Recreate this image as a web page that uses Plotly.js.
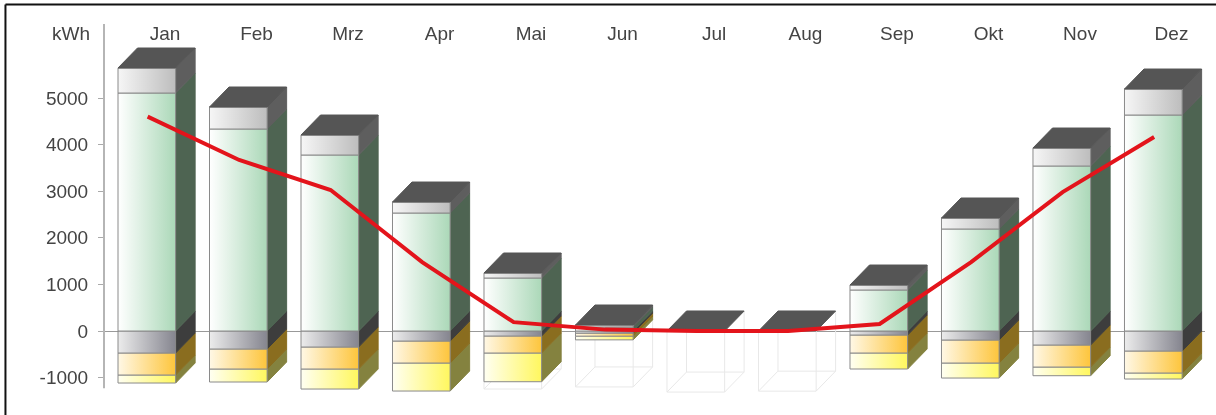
<!DOCTYPE html>
<html>
<head>
<meta charset="utf-8">
<script src="https://cdn.plot.ly/plotly-3.0.1.min.js"></script>
<style>
html,body{margin:0;padding:0;background:#fff;overflow:hidden}
#chart{width:1216px;height:415px;filter:blur(0.5px)}
</style>
</head>
<body>
<div id="chart"></div>
<script>
const months = ["Jan","Feb","Mrz","Apr","Mai","Jun","Jul","Aug","Sep","Okt","Nov","Dez"];
// cumulative levels (kWh)
const stackTop    = [5644,4807,4206,2768,1245,129,0,0,987,2425,3927,5193];
const greenTop    = [5107,4335,3777,2532,1137,85,0,0,880,2189,3541,4635];
const greyBottom  = [-472,-386,-343,-215,-107,-45,0,0,-86,-193,-300,-429];
const orangeBottom= [-944,-815,-815,-687,-472,-110,0,0,-472,-687,-773,-901];
const yellowBottom= [-1116,-1094,-1245,-1288,-1088,-190,0,0,-815,-1009,-959,-1030];
const ghostBottom = [null,null,null,null,-1245,-1200,-1310,-1290,null,null,null,null];
const redLine     = [4600,3670,3026,1480,190,30,0,0,150,1480,2980,4163];
const yTicks      = [-1000,0,1000,2000,3000,4000,5000];

// pseudo-3D geometry, in axis units
const FRONT_LEFT = -0.514, FRONT_W = 0.63, DX = 0.213, DY = 429, LINE_X = -0.19;

const traces = [];
function poly(xs, ys, fill, line, grad){
  const t = {type:"scatter", mode:"lines", x:xs.concat(xs[0]), y:ys.concat(ys[0]),
    fill:"toself", fillcolor:fill, line:{color:line, width:1}, hoverinfo:"skip",
    showlegend:false, cliponaxis:false};
  if(grad){ t.fillgradient = {type:"horizontal", colorscale:[[0,grad[0]],[1,grad[1]]]}; }
  traces.push(t);
}
function wire(xs, ys){
  traces.push({type:"scatter", mode:"lines", x:xs, y:ys, line:{color:"#e8e8e8", width:1},
    hoverinfo:"skip", showlegend:false, cliponaxis:false, connectgaps:false});
}

months.forEach((m,i)=>{
  const l = i + FRONT_LEFT, r = l + FRONT_W;
  if(ghostBottom[i] !== null){
    const b = ghostBottom[i];
    wire([l,l,r,r,l,null,l+DX,l+DX,r+DX,r+DX,l+DX,null,l,l+DX,null,r,r+DX,null,r,r+DX],
         [0,b,b,0,0,null,DY,b+DY,b+DY,DY,DY,null,b,b+DY,null,b,b+DY,null,0,DY]);
  }
  const layers = [
    [yellowBottom[i],orangeBottom[i],"#84823f",["#fffff2","#fff75e"]],
    [orangeBottom[i],greyBottom[i],"#8a6d1f",["#fff8e6","#fdc53c"]],
    [greyBottom[i],0,"#3d3d3d",["#ececec","#85858f"]],
    [0,greenTop[i],"#4e6452",["#ffffff","#abd8b8"]],
    [greenTop[i],stackTop[i],"#5e5e5e",["#f6f6f6","#bdbdbd"]]
  ];
  layers.forEach(([a,b,side,grad])=>{
    if(b-a < 1) return;
    poly([r,r+DX,r+DX,r],[a,a+DY,b+DY,b],side,side);
    poly([l,r,r,l],[a,a,b,b],grad[1],"#8a8a8a",grad);
  });
  const t = stackTop[i];
  poly([l,r,r+DX,l+DX],[t,t,t+DY,t+DY],"#555555","#555555");
});

traces.push({type:"scatter", mode:"lines", name:"Verlauf",
  x:months.map((m,i)=>i+LINE_X), y:redLine,
  line:{color:"#e3141b", width:4, shape:"linear"}, hoverinfo:"skip",
  showlegend:false, cliponaxis:false});

const labelFont = {size:19, color:"#444"};
const layout = {
  width:1216, height:415, paper_bgcolor:"#fff", plot_bgcolor:"#fff",
  margin:{l:104, r:11, t:24, b:22}, showlegend:false,
  font:{family:"Liberation Sans, Arial, sans-serif", size:19, color:"#444"},
  xaxis:{range:[-0.667,11.366], side:"top", tickmode:"array",
    tickvals:months.map((m,i)=>i), ticktext:months, ticks:"",
    ticklabelposition:"inside", showgrid:false, zeroline:false, showline:false,
    tickfont:labelFont},
  yaxis:{range:[-1330,6588], tickmode:"array", tickvals:yTicks,
    ticktext:yTicks.map(String), ticks:"outside", ticklen:5, tickcolor:"#aaa", tickwidth:1,
    ticklabelstandoff:6,
    showgrid:false, zeroline:true, zerolinecolor:"#999", zerolinewidth:1,
    showline:false, tickfont:labelFont},
  annotations:[{xref:"paper", yref:"paper", x:-0.0105, y:0.9756, xanchor:"right", yanchor:"middle",
    text:"kWh", showarrow:false, font:labelFont}],
  shapes:[
    {type:"line", xref:"paper", yref:"y", x0:0, x1:0, y0:-1230, y1:6588, line:{color:"#b5b5b5",width:2}},
    {type:"line", xref:"paper", yref:"paper", x0:-0.0895, x1:1.01, y0:1.0528, y1:1.0528, line:{color:"#111",width:2}},
    {type:"line", xref:"paper", yref:"paper", x0:-0.0895, x1:-0.0895, y0:-0.06, y1:1.0528, line:{color:"#111",width:2}}
  ]
};
Plotly.newPlot("chart", traces, layout, {displayModeBar:false, staticPlot:true});
</script>
</body>
</html>
